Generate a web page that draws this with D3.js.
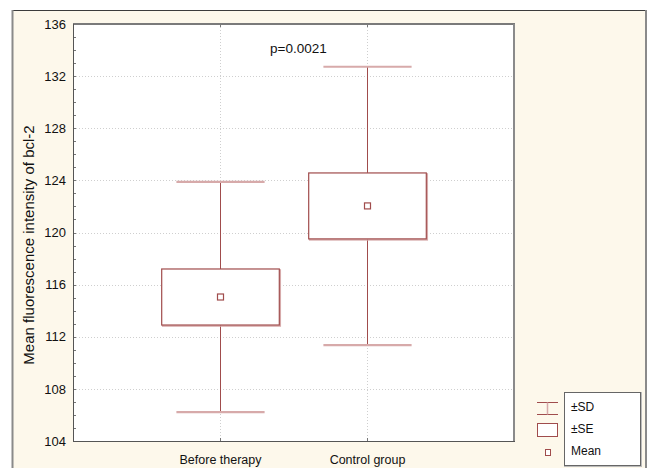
<!DOCTYPE html>
<html><head><meta charset="utf-8">
<script src="https://cdn.jsdelivr.net/npm/d3@7"></script>
<style>html,body{margin:0;padding:0;background:#fff;}svg{display:block;font-family:"Liberation Sans",Arial,sans-serif;}</style>
</head><body>
<script>
const categories = ["Before therapy", "Control group"];
const means = [115.05, 122.04];
const seHalf = [2.15, 2.53];
const sdHalf = [8.83, 10.68];
const yTicks = [104, 108, 112, 116, 120, 124, 128, 132, 136];
const pText = "p=0.0021";
const legendItems = ["±SD", "±SE", "Mean"];

const W = 650, H = 468;
const m = {left: 73, right: 514, top: 24, bottom: 441};
const svg = d3.select("body").append("svg").attr("width", W).attr("height", H);

// outer frame
svg.append("rect").attr("x", 12).attr("y", 10).attr("width", 634).attr("height", 470).attr("fill", "#fdf8eb");
svg.append("line").attr("x1", 12).attr("x2", 647).attr("y1", 10.5).attr("y2", 10.5).attr("stroke", "#3c3c3c").attr("stroke-width", 1);
svg.append("line").attr("x1", 12.5).attr("x2", 12.5).attr("y1", 10).attr("y2", 470).attr("stroke", "#8a8a8a").attr("stroke-width", 2);
svg.append("line").attr("x1", 646).attr("x2", 646).attr("y1", 10).attr("y2", 470).attr("stroke", "#8a8a8a").attr("stroke-width", 2);

const x = d3.scaleLinear().domain([0, categories.length + 1]).range([m.left, m.right]);
const y = d3.scaleLinear().domain([104, 136]).range([m.bottom, m.top]);
const step = x(1) - x(0);

// plot area
svg.append("rect").attr("x", m.left).attr("y", m.top).attr("width", m.right - m.left).attr("height", m.bottom - m.top).attr("fill", "#fff");

// gridlines
const grid = svg.append("g").attr("stroke", "#cfcfcf").attr("stroke-dasharray", "1,2").attr("stroke-width", 1);
yTicks.slice(1, -1).forEach(t => grid.append("line").attr("x1", m.left).attr("x2", m.right).attr("y1", Math.round(y(t)) + 0.5).attr("y2", Math.round(y(t)) + 0.5));
categories.forEach((c, i) => grid.append("line").attr("x1", Math.round(x(i + 1)) + 0.5).attr("x2", Math.round(x(i + 1)) + 0.5).attr("y1", m.top).attr("y2", m.bottom));

// axes
const yAxis = d3.axisLeft(y).tickValues(yTicks).tickSize(0).tickPadding(7);
const gy = svg.append("g").attr("transform", `translate(${m.left},0)`).call(yAxis);
gy.select(".domain").remove();
gy.selectAll("text").attr("font-size", "13px").attr("fill", "#111").attr("font-family", "Liberation Sans, Arial, sans-serif");

const xAxis = d3.axisBottom(x).tickValues(categories.map((c, i) => i + 1)).tickFormat((d) => categories[d - 1]).tickSize(0).tickPadding(14);
const gx = svg.append("g").attr("transform", `translate(0,${m.bottom})`).call(xAxis);
gx.select(".domain").remove();
gx.selectAll("text").attr("font-size", "12.5px").attr("fill", "#111").attr("font-family", "Liberation Sans, Arial, sans-serif");

// minor ticks inside (left)
const minor = d3.range(105, 136, 1);
const tk = svg.append("g").attr("stroke", "#777").attr("stroke-width", 1);
minor.forEach(v => {
  const yy = Math.round(y(v)) + 0.5;
  tk.append("line").attr("x1", m.left).attr("x2", m.left + 3).attr("y1", yy).attr("y2", yy);
});
categories.forEach((c, i) => {
  const xx = Math.round(x(i + 1)) + 0.5;
  tk.append("line").attr("x1", xx).attr("x2", xx).attr("y1", m.bottom - 3).attr("y2", m.bottom);
  tk.append("line").attr("x1", xx).attr("x2", xx).attr("y1", m.top).attr("y2", m.top + 3);
});

// plot borders
svg.append("line").attr("x1", m.left).attr("x2", m.right + 1).attr("y1", m.top).attr("y2", m.top).attr("stroke", "#7a7a7a").attr("stroke-width", 2);
svg.append("line").attr("x1", m.right).attr("x2", m.right).attr("y1", m.top).attr("y2", m.bottom + 1).attr("stroke", "#8a8a8a").attr("stroke-width", 2);
svg.append("line").attr("x1", m.left + 0.5).attr("x2", m.left + 0.5).attr("y1", m.top).attr("y2", m.bottom + 1).attr("stroke", "#555").attr("stroke-width", 1);
svg.append("line").attr("x1", m.left).attr("x2", m.right + 1).attr("y1", m.bottom + 0.5).attr("y2", m.bottom + 0.5).attr("stroke", "#555").attr("stroke-width", 1);

// data marks
const dark = "#a04c4c", light = "#d7aaaa";
const marks = svg.append("g");
categories.forEach((c, i) => {
  const cx = Math.round(x(i + 1)) + 0.5;
  const capW = step * 0.6, boxW = step * 0.8;
  const yTop = y(means[i] + sdHalf[i]), yBot = y(means[i] - sdHalf[i]);
  const bTop = y(means[i] + seHalf[i]), bBot = y(means[i] - seHalf[i]);
  marks.append("line").attr("x1", cx).attr("x2", cx).attr("y1", yTop).attr("y2", bTop).attr("stroke", dark).attr("stroke-width", 1);
  marks.append("line").attr("x1", cx).attr("x2", cx).attr("y1", bBot).attr("y2", yBot).attr("stroke", dark).attr("stroke-width", 1);
  [yTop, yBot].forEach(yy => marks.append("line").attr("x1", cx - capW / 2).attr("x2", cx + capW / 2).attr("y1", yy).attr("y2", yy).attr("stroke", light).attr("stroke-width", 2.2));
  marks.append("rect").attr("x", cx - boxW / 2 + 1).attr("y", bTop + 1).attr("width", boxW).attr("height", bBot - bTop).attr("fill", "none").attr("stroke", light).attr("stroke-width", 1.5);
  marks.append("rect").attr("x", cx - boxW / 2).attr("y", bTop).attr("width", boxW).attr("height", bBot - bTop).attr("fill", "#fff").attr("stroke", dark).attr("stroke-width", 1.2);
  const ym = y(means[i]);
  marks.append("rect").attr("x", cx - 3).attr("y", ym - 3).attr("width", 6).attr("height", 6).attr("fill", "#fff").attr("stroke", dark).attr("stroke-width", 1.2);
});

// p text
svg.append("text").attr("x", 270).attr("y", 53).attr("font-size", "13.5px").attr("fill", "#111").text(pText);

// y label
svg.append("text").attr("transform", "translate(34,245) rotate(-90)").attr("text-anchor", "middle").attr("font-size", "15px").attr("fill", "#111").text("Mean fluorescence intensity of bcl-2");

// legend
const lg = svg.append("g");
lg.append("rect").attr("x", 565).attr("y", 393).attr("width", 76).attr("height", 73).attr("fill", "none").attr("stroke", "#bbb").attr("stroke-width", 2);
lg.append("rect").attr("x", 564.5).attr("y", 392.5).attr("width", 76).attr("height", 73).attr("fill", "#fff").attr("stroke", "#666").attr("stroke-width", 1);
const lx1 = 537, lx2 = 558, lcx = 547.5;
lg.append("line").attr("x1", lx1).attr("x2", lx2).attr("y1", 402.5).attr("y2", 402.5).attr("stroke", dark);
lg.append("line").attr("x1", lx1).attr("x2", lx2).attr("y1", 414.5).attr("y2", 414.5).attr("stroke", dark);
lg.append("line").attr("x1", lcx).attr("x2", lcx).attr("y1", 402.5).attr("y2", 414.5).attr("stroke", light).attr("stroke-width", 1.5);
lg.append("rect").attr("x", lx1 + 0.5).attr("y", 423.5).attr("width", lx2 - lx1 - 1).attr("height", 13).attr("fill", "#fff").attr("stroke", dark);
lg.append("rect").attr("x", 545.5).attr("y", 449.5).attr("width", 5).attr("height", 6).attr("fill", "#fff").attr("stroke", dark);
const ly = [411, 433, 455];
legendItems.forEach((t, i) => lg.append("text").attr("x", 571).attr("y", ly[i]).attr("font-size", "12px").attr("fill", "#111").text(t));
</script>
</body></html>
